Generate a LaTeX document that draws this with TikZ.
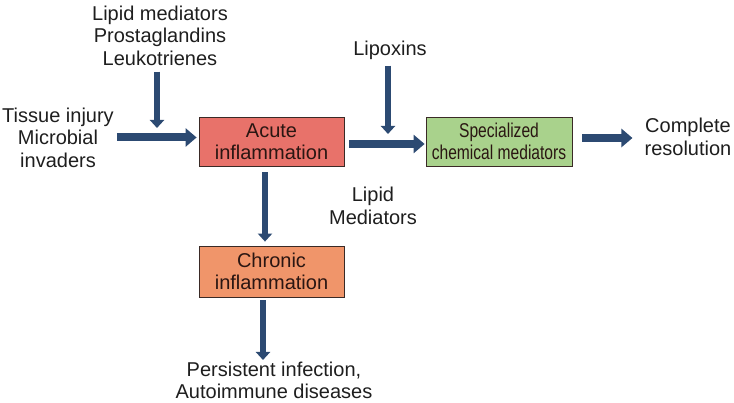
\documentclass[tikz,border=0pt]{standalone}
\usepackage{fontspec}
\setmainfont{Liberation Sans}
\usetikzlibrary{arrows.meta,calc}
\definecolor{arrowblue}{HTML}{2C4A72}
\definecolor{txt}{HTML}{1E1E1E}
\definecolor{boxtxt}{HTML}{2A1612}
\definecolor{boxline}{HTML}{3A2A26}
\definecolor{acutefill}{HTML}{E8726A}
\definecolor{chronicfill}{HTML}{F0956A}
\definecolor{specfill}{HTML}{A9D28C}
\begin{document}
\begin{tikzpicture}[x=1pt,y=-1pt,
  lbl/.style={align=center, inner sep=0pt, font=\fontsize{20}{22.5}\selectfont, text=txt},
  box/.style={draw=boxline, line width=0.8pt, minimum width=145pt, minimum height=49pt, inner sep=0pt, align=center, font=\fontsize{20}{21.5}\selectfont, text=boxtxt},
  harr/.style={draw=arrowblue, line width=8pt, -{Triangle[length=11pt,width=18pt]}, arrowblue},
  varr/.style={draw=arrowblue, line width=6.5pt, -{Triangle[length=8pt,width=14pt]}, arrowblue},
]
\useasboundingbox (0,0) rectangle (734,403);

% boxes
\node[box, fill=acutefill] (acute) at (271.5,141.5) {Acute\\inflammation};
\node[box, fill=specfill, minimum width=146pt] (spec) at (499,141.5) {\scalebox{0.78}[1]{Specialized}\\\scalebox{0.78}[1]{chemical mediators}};
\node[box, fill=chronicfill, minimum height=51pt] (chronic) at (271.5,271.5) {Chronic\\inflammation};

% labels
\node[lbl] (lipidtop) at (160,35.5) {Lipid mediators\\Prostaglandins\\Leukotrienes};
\node[lbl] (tissue) at (58,137.5) {Tissue injury\\Microbial\\invaders};
\node[lbl] (lipoxins) at (390,50) {Lipoxins};
\node[lbl] (lipidmed) at (373,206) {Lipid\\Mediators};
\node[lbl] (complete) at (688,137) {Complete\\resolution};
\node[lbl] (persist) at (274,380.5) {Persistent infection,\\Autoimmune diseases};

% free ends
\coordinate (j1) at (157,128);
\coordinate (j2) at (388,134);
\coordinate (j3) at (263,360);

% connectors
\draw[harr] ($(tissue.east |- 0,137.5)+(3,0)$) -- ($(acute.west |- 0,137.5)+(-2,0)$);
\draw[varr] ($(j1 |- lipidtop.south)+(0,6)$) -- (j1);
\draw[varr] ($(j2 |- lipoxins.south)+(0,6)$) -- (j2);
\draw[harr] ($(acute.east |- 0,144)+(5,0)$) -- ($(spec.west |- 0,144)+(-1,0)$);
\draw[harr] ($(spec.east |- complete.west)+(10,1)$) -- ($(complete.west)+(-12,1)$);
\draw[varr] ($(acute.south)+(-6.5,6)$) -- ($(chronic.north)+(-6.5,-4)$);
\draw[varr] ($(chronic.south -| j3)+(0,3)$) -- (j3);
\end{tikzpicture}
\end{document}
